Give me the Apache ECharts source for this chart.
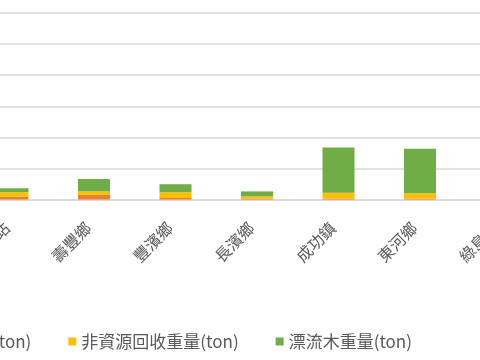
<!DOCTYPE html>
<html>
<head>
<meta charset="utf-8">
<script src="https://cdn.jsdelivr.net/npm/echarts@6/dist/echarts.min.js"></script>
<style>
html,body{margin:0;padding:0;width:480px;height:360px;overflow:hidden;background:#fff;}
#c{position:absolute;left:-160px;top:0;width:760px;height:360px;}
</style>
</head>
<body>
<div id="c"></div>
<script>
const categories = ["新城鄉", "花蓮站", "壽豐鄉", "豐濱鄉", "長濱鄉", "成功鎮", "東河鄉", "綠島鄉"];
const recycle = [0.10, 0.09, 0.15, 0.05, 0.02, 0.03, 0.02, 0.05];
const nonRecycle = [0.15, 0.14, 0.11, 0.18, 0.08, 0.19, 0.18, 0.15];
const driftwood = [0.20, 0.13, 0.40, 0.26, 0.16, 1.45, 1.43, 0.30];
const seriesNames = ["資源回收重量(ton)", "非資源回收重量(ton)", "漂流木重量(ton)"];
const yTicks = {min: 0, max: 6, interval: 1};

const chart = echarts.init(document.getElementById('c'), null, {renderer: 'canvas'});
const font = '"Noto Sans CJK TC", "Noto Sans", sans-serif';
const colors = ['#ED7D31', '#FFC000', '#70AD47'];
const data = [recycle, nonRecycle, driftwood];
chart.setOption({
  animation: false,
  color: colors,
  textStyle: {fontFamily: font},
  grid: {left: 50.25, right: 57.75, top: 13, bottom: 160.5, containLabel: false},
  legend: {
    left: 33, top: 328,
    itemWidth: 8, itemHeight: 8, itemGap: 37,
    icon: 'rect',
    textStyle: {fontSize: 17, color: '#595959', fontFamily: font},
    data: seriesNames
  },
  xAxis: {
    type: 'category',
    data: categories,
    axisLine: {lineStyle: {color: '#d9d9d9', width: 1.5}},
    axisTick: {show: false},
    axisLabel: {rotate: 45, fontSize: 16, color: '#595959', margin: 20, padding: [0, 8, 0, 0], interval: 0, fontFamily: font}
  },
  yAxis: {
    type: 'value',
    min: yTicks.min, max: yTicks.max, interval: yTicks.interval,
    axisLine: {show: false},
    axisTick: {show: false},
    axisLabel: {show: false},
    splitLine: {lineStyle: {color: '#d9d9d9', width: 1.5}}
  },
  series: seriesNames.map((n, i) => ({
    name: n,
    type: 'bar',
    stack: 'total',
    barWidth: 32,
    data: data[i]
  }))
});
</script>
</body>
</html>
